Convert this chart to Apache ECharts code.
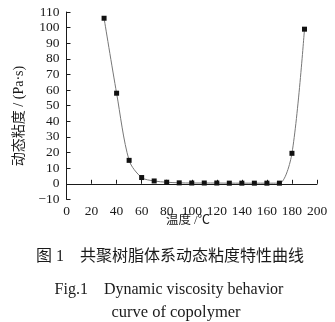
<!DOCTYPE html>
<html>
<head>
<meta charset="utf-8">
<script src="https://cdn.jsdelivr.net/npm/echarts@6/dist/echarts.min.js"></script>
<style>
html,body{margin:0;padding:0;background:#fff;}
#chart{width:335px;height:322px;}
</style>
</head>
<body>
<div id="chart"></div>
<script>
// Temperature (℃) and dynamic viscosity (Pa·s)
const temperatures = [30, 40, 50, 60, 70, 80, 90, 100, 110, 120, 130, 140, 150, 160, 170, 180, 190];
const viscosity = [106, 58, 15, 4, 1.8, 1.0, 0.6, 0.5, 0.5, 0.5, 0.4, 0.4, 0.4, 0.4, 0.4, 19.5, 99];
const xTicks = [0, 20, 40, 60, 80, 100, 120, 140, 160, 180, 200];
const yTicks = [-10, 0, 10, 20, 30, 40, 50, 60, 70, 80, 90, 100, 110];

const serif = '"Liberation Serif", "Times New Roman", serif';
const cjk = '"Liberation Serif", "Noto Sans CJK SC", serif';
const ink = '#1a1a1a';

const chart = echarts.init(document.getElementById('chart'));
chart.setOption({
  animation: false,
  grid: { left: 66.5, right: 18, top: 12, bottom: 122.6 },
  xAxis: {
    type: 'value', min: xTicks[0], max: xTicks[xTicks.length - 1], interval: 20,
    axisLine: { lineStyle: { color: ink, width: 1 } },
    axisTick: { inside: true, length: 4, lineStyle: { color: ink } },
    axisLabel: { color: ink, fontFamily: serif, fontSize: 13.5, margin: 5 },
    splitLine: { show: false }
  },
  yAxis: {
    type: 'value', min: yTicks[0], max: yTicks[yTicks.length - 1], interval: 10,
    axisLine: { show: true, lineStyle: { color: ink, width: 1 } },
    axisTick: { show: true, inside: true, length: 4, lineStyle: { color: ink } },
    axisLabel: { color: ink, fontFamily: serif, fontSize: 13.5, margin: 7,
      formatter: v => v < 0 ? '\u2212' + Math.abs(v) : String(v) },
    splitLine: { show: false }
  },
  series: [{
    type: 'line',
    data: temperatures.map((t, i) => [t, viscosity[i]]),
    smooth: 0.3,
    symbol: 'rect', symbolSize: 5,
    itemStyle: { color: '#111' },
    lineStyle: { color: '#777', width: 1 }
  }],
  graphic: [
    { type: 'text', x: 19, y: 116, rotation: Math.PI / 2,
      style: { text: '动态粘度 / (Pa·s)', x: 0, y: 0, font: '14px ' + cjk, fill: ink, align: 'center', verticalAlign: 'middle' } },
    { type: 'text', style: { text: '温度 /℃', x: 188, y: 221, font: '12.5px ' + cjk, fill: ink, align: 'center', verticalAlign: 'middle' } },
    { type: 'text', style: { text: '图 1    共聚树脂体系动态粘度特性曲线', x: 170, y: 257, font: '16px ' + cjk, fill: ink, align: 'center', verticalAlign: 'middle' } },
    { type: 'text', style: { text: 'Fig.1    Dynamic viscosity behavior', x: 169, y: 290, font: '16px ' + serif, fill: ink, align: 'center', verticalAlign: 'middle' } },
    { type: 'text', style: { text: 'curve of copolymer', x: 176, y: 313, font: '16.5px ' + serif, fill: ink, align: 'center', verticalAlign: 'middle' } }
  ]
});
</script>
</body>
</html>
